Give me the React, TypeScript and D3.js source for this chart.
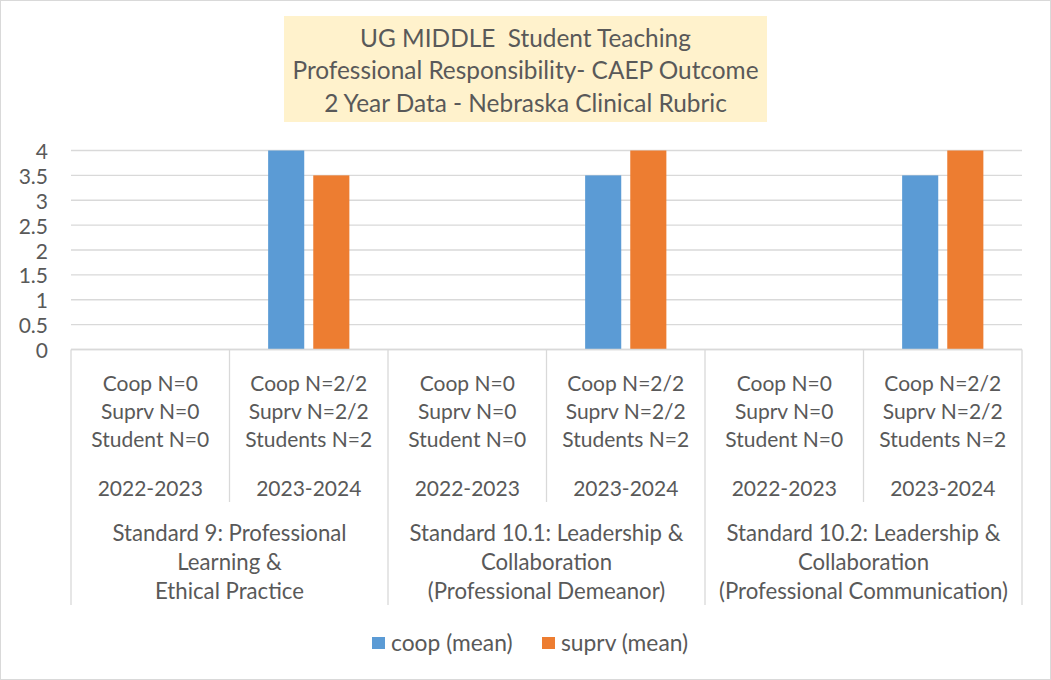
import React from "react";
import * as d3 from "d3";

const titleLines = [
  "UG MIDDLE  Student Teaching",
  "Professional Responsibility- CAEP Outcome",
  "2 Year Data - Nebraska Clinical Rubric",
];
const standards = [
  ["Standard 9: Professional", "Learning &", "Ethical Practice"],
  ["Standard 10.1: Leadership &", "Collaboration", "(Professional Demeanor)"],
  ["Standard 10.2: Leadership &", "Collaboration", "(Professional Communication)"],
];
const years = ["2022-2023", "2023-2024"];
const countLabels2022 = ["Coop N=0", "Suprv N=0", "Student N=0"];
const countLabels2023 = ["Coop N=2/2", "Suprv N=2/2", "Students N=2"];
const seriesNames = ["coop (mean)", "suprv (mean)"];
const seriesColors = ["#5B9BD5", "#ED7D31"];
const coopMean: (number | null)[] = [null, 4, null, 3.5, null, 3.5];
const suprvMean: (number | null)[] = [null, 3.5, null, 4, null, 4];
const yTicks = [0, 0.5, 1, 1.5, 2, 2.5, 3, 3.5, 4];

const W = 1051;
const H = 680;
const FONT = "Lato, 'Open Sans', sans-serif";
const TXT = "#595959";
const GRID = "#D9D9D9";

export default function App() {
  const cats = d3.range(standards.length * years.length);
  const x = d3.scaleBand<number>().domain(cats).range([71, 1022]).padding(0);
  const inner = d3
    .scaleBand<number>()
    .domain([0, 1])
    .range([0, x.bandwidth()])
    .paddingInner(0.2)
    .paddingOuter(0.856);
  const y = d3.scaleLinear().domain([0, 4]).range([349.5, 150.5]);
  const series = [coopMean, suprvMean];
  const step = x.step();

  return (
    <svg width={W} height={H} style={{ position: "absolute", left: 0, top: 0 }}>
      <rect x={0.5} y={0.5} width={W - 1} height={H - 1} fill="#fff" stroke={GRID} />
      {/* title */}
      <rect x={284} y={16} width={483} height={106} fill="#FFF2CC" />
      {titleLines.map((t, i) => (
        <text
          key={i}
          x={525.5}
          y={37 + i * 32.5}
          textAnchor="middle"
          dominantBaseline="central"
          fontFamily={FONT}
          fontSize={24.4}
          fill={TXT}
          style={{ whiteSpace: "pre" }}
        >
          {t}
        </text>
      ))}
      {/* gridlines */}
      {yTicks.map((t) => (
        <line key={t} x1={71} x2={1022} y1={y(t)} y2={y(t)} stroke={GRID} strokeWidth={1.3} />
      ))}
      {/* tick labels */}
      {yTicks.map((t) => (
        <text
          key={"l" + t}
          x={48}
          y={y(t)}
          textAnchor="end"
          dominantBaseline="central"
          fontFamily={FONT}
          fontSize={21}
          fill={TXT}
        >
          {t}
        </text>
      ))}
      {/* bars */}
      {cats.map((c) =>
        series.map((s, si) => {
          const v = s[c];
          if (v == null) return null;
          return (
            <rect
              key={c + "-" + si}
              x={(x(c) as number) + (inner(si) as number)}
              y={y(v)}
              width={inner.bandwidth()}
              height={y(0) - y(v)}
              fill={seriesColors[si]}
            />
          );
        })
      )}
      {/* axis line */}
      <line x1={71} x2={1022} y1={y(0)} y2={y(0)} stroke={GRID} strokeWidth={1.3} />
      {/* category separators */}
      {d3.range(cats.length + 1).map((i) => {
        const xx = 71 + i * step;
        const major = i % years.length === 0;
        return (
          <line
            key={"s" + i}
            x1={xx}
            x2={xx}
            y1={y(0)}
            y2={major ? 605 : 502}
            stroke={GRID}
            strokeWidth={1.3}
          />
        );
      })}
      {/* category labels */}
      {cats.map((c) => {
        const cx = (x(c) as number) + x.bandwidth() / 2;
        const yi = c % years.length;
        const lines = yi === 0 ? countLabels2022 : countLabels2023;
        return (
          <g key={"c" + c} fontFamily={FONT} fontSize={21} fill={TXT} textAnchor="middle">
            {lines.map((l, li) => (
              <text key={li} x={cx} y={382 + li * 28} dominantBaseline="central">
                {l}
              </text>
            ))}
            <text x={cx} y={487} dominantBaseline="central">
              {years[yi]}
            </text>
          </g>
        );
      })}
      {standards.map((lines, gi) => {
        const cx = 71 + (gi * years.length + years.length / 2) * step;
        return (
          <g key={"g" + gi} fontFamily={FONT} fontSize={22.2} fill={TXT} textAnchor="middle">
            {lines.map((l, li) => (
              <text key={li} x={cx} y={532 + li * 29} dominantBaseline="central">
                {l}
              </text>
            ))}
          </g>
        );
      })}
      {/* legend */}
      {seriesNames.map((n, i) => {
        const lx = i === 0 ? 372 : 542;
        return (
          <g key={"lg" + i}>
            <rect x={lx} y={637} width={13} height={12} fill={seriesColors[i]} />
            <text
              x={lx + 19}
              y={642}
              dominantBaseline="central"
              fontFamily={FONT}
              fontSize={22.8}
              fill={TXT}
            >
              {n}
            </text>
          </g>
        );
      })}
    </svg>
  );
}
